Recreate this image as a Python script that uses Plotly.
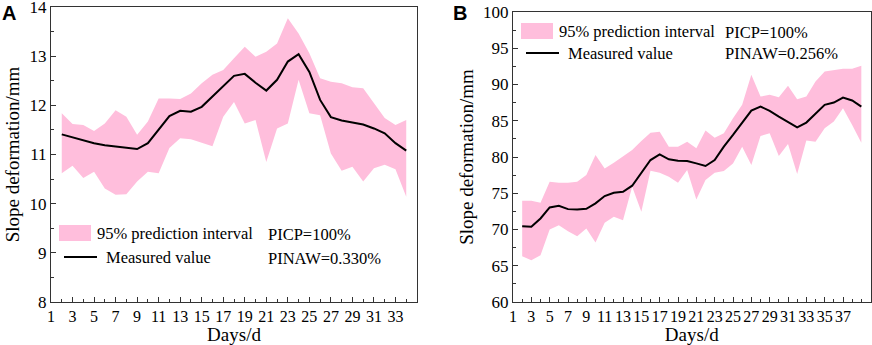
import plotly.graph_objects as go

# ---------------- data ----------------
days_a = list(range(2, 35))
measured_a = [11.41, 11.35, 11.29, 11.23, 11.19, 11.16, 11.13, 11.11, 11.23, 11.50,
              11.78, 11.89, 11.87, 11.97, 12.18, 12.39, 12.60, 12.64, 12.46, 12.30,
              12.52, 12.89, 13.04, 12.68, 12.11, 11.76, 11.69, 11.65, 11.61, 11.53,
              11.43, 11.23, 11.08]
upper_a = [11.84, 11.62, 11.60, 11.48, 11.63, 11.90, 11.77, 11.40, 11.67, 12.14,
           12.14, 12.13, 12.24, 12.45, 12.62, 12.72, 12.96, 13.19, 12.99, 13.09,
           13.26, 13.77, 13.46, 13.06, 12.55, 12.48, 12.45, 12.37, 12.35, 12.04,
           11.74, 11.60, 11.70]
lower_a = [10.62, 10.77, 10.52, 10.65, 10.31, 10.18, 10.19, 10.45, 10.65, 10.62,
           11.13, 11.33, 11.31, 11.24, 11.17, 11.77, 12.07, 11.63, 11.70, 10.85,
           11.53, 11.63, 12.52, 11.84, 11.80, 11.02, 10.67, 10.75, 10.45, 10.72,
           10.79, 10.70, 10.14]

days_b = list(range(2, 40))
measured_b = [70.46, 70.37, 71.52, 73.04, 73.27, 72.81, 72.76, 72.86, 73.60, 74.61,
              75.07, 75.21, 76.04, 77.74, 79.58, 80.37, 79.68, 79.49, 79.45, 79.12,
              78.76, 79.58, 81.43, 83.04, 84.65, 86.41, 86.96, 86.36, 85.58, 84.79,
              84.10, 84.75, 86.04, 87.19, 87.51, 88.20, 87.79, 86.96]
upper_b = [73.96, 73.96, 73.69, 76.59, 76.45, 76.45, 76.59, 77.51, 80.28, 78.43,
           79.22, 80.14, 80.97, 82.21, 83.36, 83.50, 81.43, 81.43, 82.12, 81.20,
           83.64, 82.67, 83.27, 85.35, 87.19, 91.34, 88.34, 88.57, 88.25, 89.82,
           87.97, 88.34, 90.41, 91.80, 91.94, 92.17, 92.17, 92.58]
lower_b = [66.31, 65.76, 66.45, 70.00, 70.60, 69.77, 69.08, 70.14, 68.20, 70.92,
           71.75, 71.29, 75.90, 72.44, 78.10, 77.83, 77.28, 76.45, 78.20, 74.15,
           76.82, 77.83, 78.06, 79.12, 81.43, 78.90, 82.90, 83.27, 80.14, 81.80,
           77.65, 82.26, 82.12, 83.96, 84.88, 86.73, 84.42, 81.98]

xticks_a = list(range(1, 34, 2))
xticks_b = list(range(1, 38, 2))
yticks_a = list(range(8, 15))
yticks_b = list(range(60, 101, 5))

legend_fill = "95% prediction interval"
legend_line = "Measured value"
metrics_a = ["PICP=100%", "PINAW=0.330%"]
metrics_b = ["PICP=100%", "PINAW=0.256%"]

# ---------------- style ----------------
W, H = 872, 345
PINK = "#FFBEDC"
FONT = "Liberation Serif, Times New Roman, serif"
AXC = "#333333"

def px(x):
    return x / W

def py(y):
    return 1 - y / H

fig = go.Figure()

def add_panel(xa, ya, days, lo, up, meas):
    fig.add_trace(go.Scatter(x=days, y=lo, mode="lines", line=dict(width=0, color=PINK),
                             xaxis=xa, yaxis=ya, showlegend=False, hoverinfo="skip"))
    fig.add_trace(go.Scatter(x=days, y=up, mode="lines", line=dict(width=0, color=PINK),
                             fill="tonexty", fillcolor=PINK,
                             xaxis=xa, yaxis=ya, showlegend=False, hoverinfo="skip"))
    fig.add_trace(go.Scatter(x=days, y=meas, mode="lines", line=dict(width=2, color="black"),
                             xaxis=xa, yaxis=ya, showlegend=False))

add_panel("x", "y", days_a, lower_a, upper_a, measured_a)
add_panel("x2", "y2", days_b, lower_b, upper_b, measured_b)

def xaxis_cfg(dom, rng, ticks, anchor):
    return dict(domain=dom, range=rng, anchor=anchor, automargin=False, tickangle=0,
                ticklabeloverflow="allow",
                tickmode="array", tickvals=ticks, ticktext=[str(t) for t in ticks],
                ticks="inside", ticklen=5, tickwidth=1, tickcolor=AXC,
                minor=dict(tickmode="linear", tick0=0, dtick=1, ticks="inside",
                           ticklen=3, tickwidth=1, tickcolor=AXC, showgrid=False),
                showline=True, linecolor=AXC, linewidth=1, mirror=True,
                showgrid=False, zeroline=False,
                tickfont=dict(family=FONT, size=16, color="black"),
                title=dict(text="Days/d", font=dict(family=FONT, size=19, color="black"),
                           standoff=2))

def yaxis_cfg(dom, rng, ticks, minor_dt, anchor):
    return dict(domain=dom, range=rng, anchor=anchor, automargin=False,
                ticklabeloverflow="allow",
                tickmode="array", tickvals=ticks, ticktext=[str(t) for t in ticks],
                ticks="inside", ticklen=5, tickwidth=1, tickcolor=AXC,
                minor=dict(tickmode="linear", tick0=0, dtick=minor_dt, ticks="inside",
                           ticklen=3, tickwidth=1, tickcolor=AXC, showgrid=False),
                showline=True, linecolor=AXC, linewidth=1, mirror=True,
                showgrid=False, zeroline=False,
                tickfont=dict(family=FONT, size=17, color="black"),
                title=dict(text="Slope deformation/mm",
                           font=dict(family=FONT, size=19, color="black"), standoff=4))

dom_ax = [px(51), px(417)]
dom_ay = [py(302), py(7)]
dom_bx = [px(513), px(870.5)]
dom_by = [py(302), py(12)]

fig.update_layout(
    width=W, height=H, margin=dict(l=0, r=0, t=0, b=0),
    paper_bgcolor="white", plot_bgcolor="white", showlegend=False,
    xaxis=xaxis_cfg(dom_ax, [1, 35], xticks_a, "y"),
    yaxis=yaxis_cfg(dom_ay, [8, 14], yticks_a, 0.5, "x"),
    xaxis2=xaxis_cfg(dom_bx, [1, 40], xticks_b, "y2"),
    yaxis2=yaxis_cfg(dom_by, [60, 100], yticks_b, 2.5, "x2"),
)

# legends drawn inside each panel
def add_legend(x0, y_fill, y_line, metrics, mx):
    fig.add_shape(type="rect", xref="paper", yref="paper",
                  x0=px(x0), x1=px(x0 + 32), y0=py(y_fill + 8), y1=py(y_fill - 8),
                  fillcolor=PINK, line=dict(width=0))
    fig.add_shape(type="line", xref="paper", yref="paper",
                  x0=px(x0 + 5), x1=px(x0 + 38), y0=py(y_line), y1=py(y_line),
                  line=dict(color="black", width=2))
    fig.add_annotation(xref="paper", yref="paper", x=px(x0 + 36), y=py(y_fill),
                       text=legend_fill, showarrow=False, xanchor="left", yanchor="middle",
                       font=dict(family=FONT, size=16.5, color="black"))
    fig.add_annotation(xref="paper", yref="paper", x=px(x0 + 45), y=py(y_line),
                       text=legend_line, showarrow=False, xanchor="left", yanchor="middle",
                       font=dict(family=FONT, size=16.5, color="black"))
    fig.add_annotation(xref="paper", yref="paper", x=px(mx), y=py(y_fill + 1),
                       text=metrics[0], showarrow=False, xanchor="left", yanchor="middle",
                       font=dict(family=FONT, size=16.5, color="black"))
    fig.add_annotation(xref="paper", yref="paper", x=px(mx), y=py(y_line + 1),
                       text=metrics[1], showarrow=False, xanchor="left", yanchor="middle",
                       font=dict(family=FONT, size=16.5, color="black"))

add_legend(59, 233, 257, metrics_a, 266)
add_legend(436 + 85, 31, 53, metrics_b, 436 + 287)

# panel letters
for letter, x in (("A", 0), ("B", 451)):
    fig.add_annotation(xref="paper", yref="paper", x=px(x), y=py(0),
                       text="<b>%s</b>" % letter, showarrow=False,
                       xanchor="left", yanchor="top",
                       font=dict(family="Liberation Sans", size=20, color="black"))

fig.write_html("out.html", config={"displayModeBar": False},
               post_script="document.body.style.margin='0';document.body.style.padding='0';")
